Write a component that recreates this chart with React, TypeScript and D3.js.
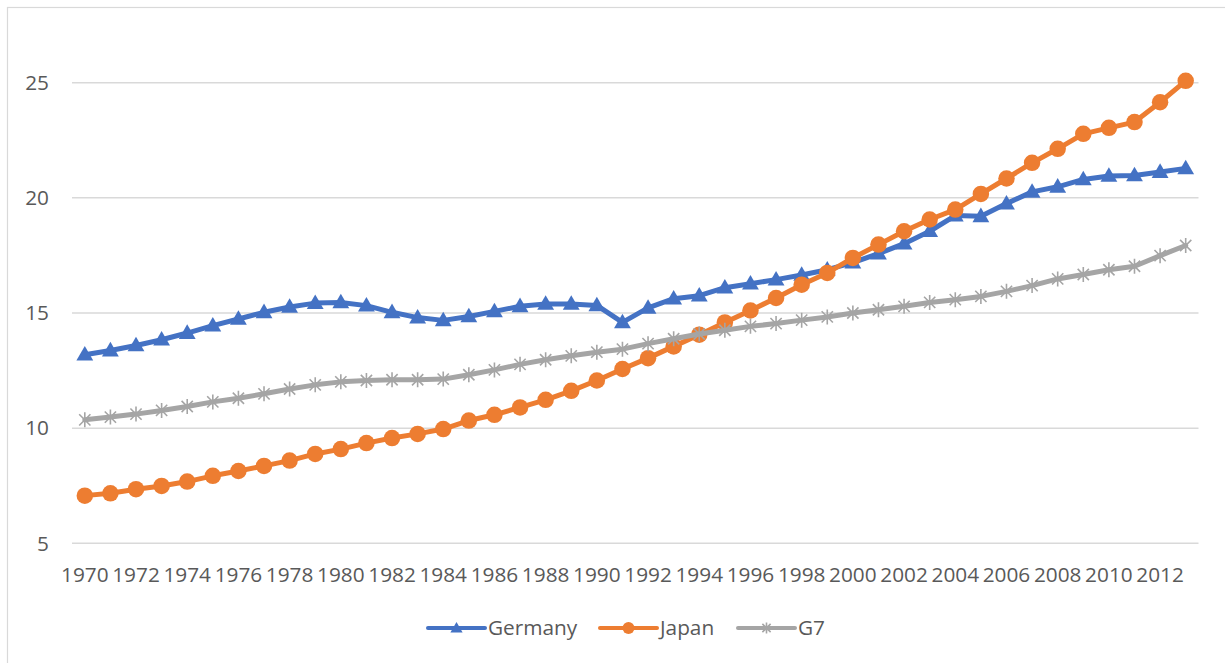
import React from 'react';
import * as d3 from 'd3';

const years = [
  1970, 1971, 1972, 1973, 1974, 1975, 1976, 1977, 1978, 1979,
  1980, 1981, 1982, 1983, 1984, 1985, 1986, 1987, 1988, 1989,
  1990, 1991, 1992, 1993, 1994, 1995, 1996, 1997, 1998, 1999,
  2000, 2001, 2002, 2003, 2004, 2005, 2006, 2007, 2008, 2009,
  2010, 2011, 2012, 2013,
];

const germany = [
  13.19, 13.37, 13.59, 13.84, 14.13, 14.45, 14.74, 15.03, 15.26, 15.43,
  15.46, 15.32, 15.03, 14.8, 14.68, 14.85, 15.07, 15.29, 15.39, 15.39,
  15.33, 14.59, 15.22, 15.62, 15.75, 16.1, 16.27, 16.45, 16.65, 16.88,
  17.19, 17.58, 18.01, 18.55, 19.23, 19.2, 19.75, 20.26, 20.48, 20.8,
  20.95, 20.97, 21.12, 21.28,
];

const japan = [
  7.07, 7.17, 7.35, 7.49, 7.68, 7.93, 8.14, 8.36, 8.59, 8.88,
  9.09, 9.35, 9.57, 9.75, 9.96, 10.33, 10.58, 10.9, 11.23, 11.62,
  12.07, 12.57, 13.04, 13.55, 14.06, 14.59, 15.11, 15.65, 16.23, 16.74,
  17.39, 17.97, 18.55, 19.06, 19.49, 20.17, 20.84, 21.52, 22.13, 22.78,
  23.04, 23.29, 24.15, 25.08,
];

const g7 = [
  10.36, 10.48, 10.61, 10.77, 10.94, 11.14, 11.3, 11.49, 11.7, 11.88,
  12.01, 12.07, 12.1, 12.1, 12.13, 12.32, 12.53, 12.77, 12.97, 13.14,
  13.3, 13.43, 13.67, 13.88, 14.09, 14.25, 14.42, 14.54, 14.69, 14.83,
  15.0, 15.14, 15.29, 15.46, 15.58, 15.72, 15.94, 16.19, 16.48, 16.67,
  16.88, 17.03, 17.49, 17.93,
];

const yTicks = [5, 10, 15, 20, 25];
const xLabels = years.filter((y) => y % 2 === 0);

const seriesNames = ['Germany', 'Japan', 'G7'];
const seriesColors = ['#4472C4', '#ED7D31', '#A5A5A5'];
const seriesMarkers = ['triangle', 'circle', 'star'];
const seriesValues = [germany, japan, g7];

const W = 1225;
const H = 663;
const FONT = '"Open Sans", "Noto Sans", sans-serif';
const TEXT = '#595959';

// marker path centred at 0,0
function markerPath(kind: string, s: number) {
  if (kind === 'triangle') {
    return d3.symbol(d3.symbolTriangle, s * s * 0.45)() as string;
  }
  const p = d3.path();
  const r = s / 2;
  p.moveTo(0, -r); p.lineTo(0, r);
  p.moveTo(-r * 0.75, -r * 0.75); p.lineTo(r * 0.75, r * 0.75);
  p.moveTo(-r * 0.75, r * 0.75); p.lineTo(r * 0.75, -r * 0.75);
  return p.toString();
}

function Marker({ kind, color, x, y, size }: any) {
  if (kind === 'circle') {
    return <circle cx={x} cy={y} r={size / 2} fill={color} />;
  }
  if (kind === 'triangle') {
    return <path d={markerPath(kind, size)} transform={`translate(${x},${y + 1})`} fill={color} />;
  }
  return (
    <path d={markerPath(kind, size)} transform={`translate(${x},${y})`}
      fill="none" stroke={color} strokeWidth={1.6} />
  );
}

export default function App() {
  const x = d3.scaleBand<number>().domain(years).range([72, 1198.5]).padding(0);
  const cx = (yr: number) => (x(yr) as number) + x.bandwidth() / 2;
  const y = d3.scaleLinear().domain([5, 25]).range([543.3, 82.7]);

  const line = d3.line<number>()
    .x((_, i) => cx(years[i]))
    .y((v) => y(v));

  // legend layout: line start, text start
  const legendX = [428, 600, 738];
  const legendY = 628;

  return (
    <svg width={W} height={H} style={{ position: 'absolute', left: 0, top: 0, background: '#fff' }}
      fontFamily={FONT}>
      <rect x={7.5} y={7.5} width={1240} height={700} fill="#fff" stroke="#d9d9d9" strokeWidth={1.2} />

      {/* gridlines + y labels */}
      {yTicks.map((t) => (
        <g key={t}>
          <line x1={72} x2={1198.5} y1={y(t)} y2={y(t)} stroke="#d9d9d9" strokeWidth={1.5} />
          <text x={49} y={y(t)} dy="0.35em" textAnchor="end" fontSize={20.8} fill={TEXT}>{t}</text>
        </g>
      ))}

      {/* x labels */}
      {xLabels.map((yr) => (
        <text key={yr} x={cx(yr)} y={574.5} dy="0.35em" textAnchor="middle" fontSize={20.8} fill={TEXT}>
          {yr}
        </text>
      ))}

      {/* series */}
      {seriesValues.map((vals, si) => (
        <g key={seriesNames[si]}>
          <path d={line(vals) as string} fill="none" stroke={seriesColors[si]} strokeWidth={5}
            strokeLinejoin="round" strokeLinecap="round" />
          {vals.map((v, i) => (
            <Marker key={i} kind={seriesMarkers[si]} color={seriesColors[si]}
              x={cx(years[i])} y={y(v)} size={seriesMarkers[si] === 'star' ? 15 : 16.5} />
          ))}
        </g>
      ))}

      {/* legend */}
      {seriesNames.map((name, si) => (
        <g key={name}>
          <line x1={legendX[si]} x2={legendX[si] + 57} y1={legendY} y2={legendY}
            stroke={seriesColors[si]} strokeWidth={4} strokeLinecap="round" />
          <Marker kind={seriesMarkers[si]} color={seriesColors[si]}
            x={legendX[si] + 28.5} y={legendY} size={seriesMarkers[si] === 'star' ? 11 : 12} />
          <text x={legendX[si] + 60} y={legendY} dy="0.35em" fontSize={20.8} fill={TEXT}>{name}</text>
        </g>
      ))}
    </svg>
  );
}
